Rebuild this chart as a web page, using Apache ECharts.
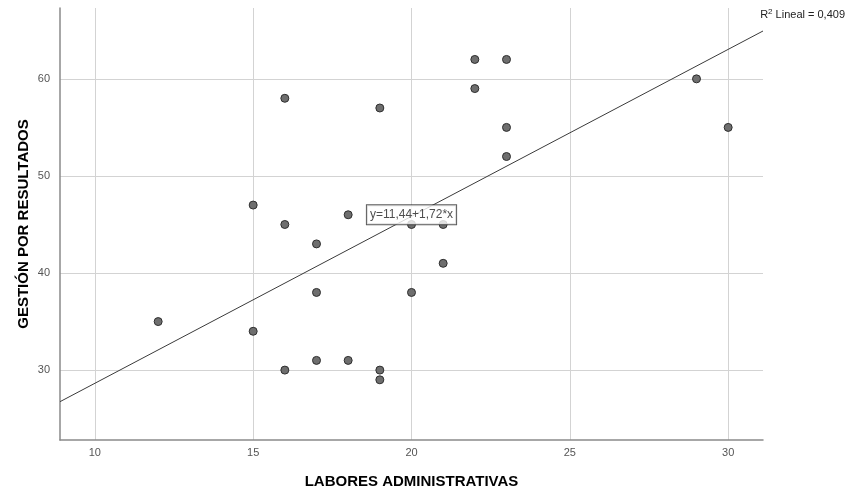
<!DOCTYPE html>
<html>
<head>
<meta charset="utf-8">
<script src="https://cdn.jsdelivr.net/npm/echarts@6/dist/echarts.min.js"></script>
<style>html,body{margin:0;padding:0;background:#fff}#c{width:849px;height:494px}</style>
</head>
<body>
<div id="c"></div>
<script>
// Data
const laborX = [12, 15, 15, 16, 16, 16, 17, 17, 17, 18, 18, 19, 19, 19, 20, 20, 21, 21, 22, 22, 23, 23, 23, 29, 30];
const gestionY = [35, 47, 34, 58, 45, 30, 43, 38, 31, 46, 31, 57, 30, 29, 45, 38, 45, 41, 62, 59, 62, 55, 52, 60, 55];
const fitIntercept = 11.44;
const fitSlope = 1.72;
const fitLabel = 'y=11,44+1,72*x';
const r2Label = '0,409';
const xTicks = [10, 15, 20, 25, 30];
const yTicks = [30, 40, 50, 60];
const xRange = [8.9, 31.1];
const yRange = [22.8, 67.3];
const labelAnchor = [20, 46];

const points = laborX.map((x, i) => [x, gestionY[i]]);
const fitLine = xRange.map(x => [x, fitIntercept + fitSlope * x]);

const chart = echarts.init(document.getElementById('c'));
const font = '"Liberation Sans", Arial, sans-serif';
chart.setOption({
  animation: false,
  grid: { left: 60, right: 86, top: 8, bottom: 54 },
  xAxis: {
    type: 'value', min: xRange[0], max: xRange[1],
    name: 'LABORES ADMINISTRATIVAS', nameLocation: 'middle', nameGap: 34,
    nameTextStyle: { fontFamily: font, fontWeight: 'bold', fontSize: 15, color: '#000' },
    axisLine: { lineStyle: { color: '#8a8a8a', width: 1.5 } },
    axisTick: { show: false, customValues: xTicks },
    splitLine: { show: true, lineStyle: { color: '#d3d3d3', width: 1 } },
    axisLabel: { fontFamily: font, fontSize: 11, color: '#555', margin: 7, customValues: xTicks }
  },
  yAxis: {
    type: 'value', min: yRange[0], max: yRange[1],
    name: 'GESTIÓN POR RESULTADOS', nameLocation: 'middle', nameGap: 29, nameMoveOverlap: false,
    nameTextStyle: { fontFamily: font, fontWeight: 'bold', fontSize: 15, color: '#000' },
    axisLine: { show: true, lineStyle: { color: '#8a8a8a', width: 1.5 } },
    axisTick: { show: false, customValues: yTicks },
    splitLine: { show: true, lineStyle: { color: '#d3d3d3', width: 1 } },
    axisLabel: { fontFamily: font, fontSize: 11, color: '#555', margin: 10, customValues: yTicks }
  },
  graphic: [{
    type: 'text', right: 4, top: 8,
    style: {
      text: '{a|R}{s|2}{a| Lineal = ' + r2Label + '}',
      rich: {
        a: { fontFamily: font, fontSize: 11, fill: '#222' },
        s: { fontFamily: font, fontSize: 8, fill: '#222', verticalAlign: 'top', padding: [0, 0, 6, 0] }
      }
    }
  }],
  series: [
    {
      type: 'line', data: fitLine, showSymbol: false, symbol: 'none', z: 2,
      lineStyle: { color: '#3a3a3a', width: 1 }
    },
    {
      type: 'scatter', data: points, symbol: 'circle', symbolSize: 8, z: 3,
      itemStyle: { color: '#6e6e6e', borderColor: '#2e2e2e', borderWidth: 1, opacity: 1 }
    },
    {
      type: 'scatter', data: [labelAnchor], symbolSize: 1, z: 5,
      itemStyle: { color: 'rgba(0,0,0,0)' },
      label: {
        show: true, position: 'inside', formatter: fitLabel,
        fontFamily: font, fontSize: 12, color: '#222',
        backgroundColor: '#fff', borderColor: '#333', borderWidth: 1,
        padding: [4, 3, 3, 3]
      }
    }
  ]
});
</script>
</body>
</html>
